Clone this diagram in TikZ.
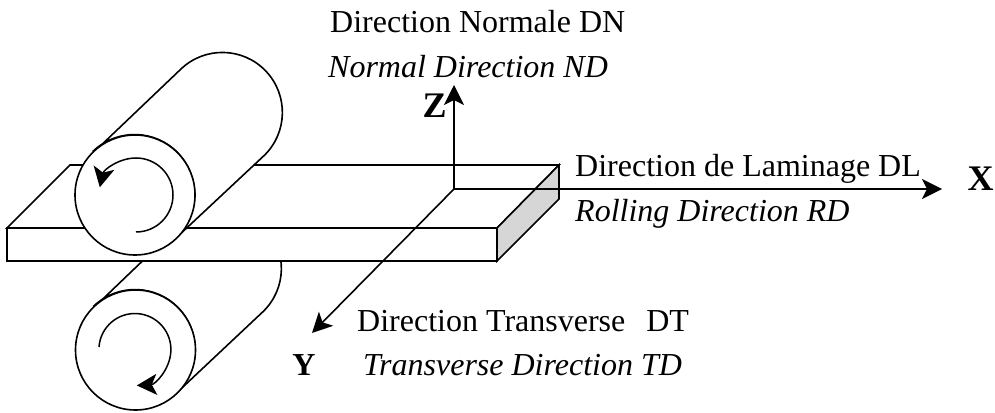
\documentclass[tikz,border=0pt]{standalone}
\usepackage{fontspec}
\setmainfont{Liberation Serif}
\usetikzlibrary{arrows.meta}
\tikzset{
 ln/.style={line width=1.6pt,black,line join=miter},
 axis/.style={line width=1.6pt,black,-{Stealth[length=20pt,width=20pt,inset=5pt]}},
 turn/.style={line width=1.5pt,black,-{Stealth[length=20pt,width=21pt,inset=5pt]}},
 lab/.style={anchor=base west,inner sep=0pt,font=\fontsize{32}{36}\selectfont},
 ital/.style={lab,font=\fontsize{32}{36}\selectfont\itshape},
 bold/.style={anchor=base,inner sep=0pt,font=\fontsize{36}{40}\selectfont\bfseries}
}
\begin{document}
\begin{tikzpicture}[x=1pt,y=1pt]
\useasboundingbox (0,0) rectangle (995,412);
% lower roller
\draw[ln,fill=white] (94.5,105) -- (180,187) arc[start angle=133.6,end angle=-46.4,radius=60] -- (176.5,19) arc[start angle=-46.4,end angle=133.6,radius=60] -- cycle;
\draw[ln,fill=white] (135.5,62) circle[radius=60];
\draw[turn] (99,65) arc[start angle=176,end angle=-87,radius=36];
% plate
\coordinate (o) at (454,223);
\draw[ln,fill=white] (70,247) -- (559,247) -- (497,184) -- (7,184) -- cycle;
\draw[ln,fill=white] (7,184) rectangle (497,151);
\draw[ln,fill=black!16] (497,184) -- (559,247) -- (559,213) -- (497,151) -- cycle;
% upper roller
\draw[ln,fill=white] (94,260) -- (181,343) arc[start angle=133.6,end angle=-46.4,radius=60] -- (176,174) arc[start angle=-46.4,end angle=133.6,radius=60] -- cycle;
\draw[ln,fill=white] (135,217) circle[radius=60];
\draw[turn] (136,180) arc[start angle=-90,end angle=168,radius=37];
% axes
\coordinate (zt) at (454,327);
\coordinate (xt) at (942,223);
\coordinate (yt) at (312,79);
\draw[axis] (o) -- (zt);
\draw[axis] (o) -- (xt);
\draw[axis] (o) -- (yt);
% labels
\node[lab] (dn) at (330,379) {Direction Normale DN};
\node[ital] (nd) at (328,334) {Normal Direction ND};
\node[lab] (dl) at (575,235) {Direction de Laminage DL};
\node[ital] (rd) at (575,190) {Rolling Direction RD};
\node[lab] (dt) at (357,80) {Direction Transverse\hspace{21pt}DT};
\node[ital] (td) at (363,36) {Transverse Direction TD};
\node[bold] (z) at (434.5,294) {Z};
\node[bold] (x) at (980.5,221) {X};
\node[bold,font=\fontsize{32}{36}\selectfont\bfseries] (y) at (304,36) {Y};
\end{tikzpicture}
\end{document}
